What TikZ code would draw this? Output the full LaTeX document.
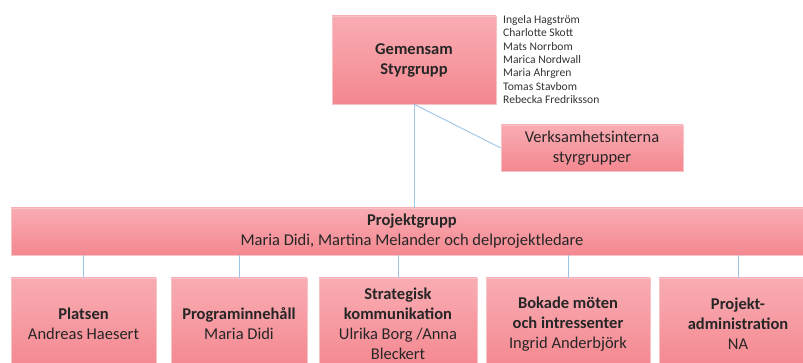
\documentclass[tikz,border=0pt]{standalone}
\usepackage{fontspec}
\setmainfont{Carlito}
\definecolor{boxtop}{HTML}{F9ACB3}
\definecolor{boxbot}{HTML}{F4878F}
\definecolor{boxedge}{HTML}{F8C3C7}
\definecolor{linkblue}{HTML}{9DC3E6}
\begin{document}
\begin{tikzpicture}[x=1pt,y=-1pt,
		orgbox/.style={draw=boxedge, top color=boxtop, bottom color=boxbot, align=center, inner sep=2pt,
			font=\fontsize{16.5}{20}\selectfont, text=black!85},
		link/.style={draw=linkblue, line width=0.9pt}]
		\useasboundingbox (0,0) rectangle (803,363);
		\clip (0,0) rectangle (803,363);
		
		\node[orgbox, minimum width=164, minimum height=88] (gem) at (414,60) {\textbf{Gemensam}\\\textbf{Styrgrupp}};
		\node[anchor=north west, inner sep=0pt, align=left, font=\fontsize{11.6}{13.4}\selectfont, text=black!80] (names) at (503,15)
			{Ingela Hagström\\Charlotte Skott\\Mats Norrbom\\Marica Nordwall\\Maria Ahrgren\\Tomas Stavbom\\Rebecka Fredriksson};
		
		\node[orgbox, minimum width=182, minimum height=46] (verk) at (592,148) {Verksamhetsinterna\\styrgrupper};
		
		\node[orgbox, minimum width=802, minimum height=47] (proj) at (412,231.5) {\textbf{Projektgrupp}\\Maria Didi, Martina Melander och delprojektledare};
		
		\node[orgbox, minimum width=145, minimum height=92] (plats) at (83.5,324) {\textbf{Platsen}\\Andreas Haesert};
		\node[orgbox, minimum width=136, minimum height=92] (prog) at (239,324) {\textbf{Programinnehåll}\\Maria Didi};
		\node[orgbox, minimum width=158, minimum height=92] (strat) at (398,324) {\textbf{Strategisk}\\\textbf{kommunikation}\\Ulrika Borg /Anna\\Bleckert};
		\node[orgbox, minimum width=164, minimum height=92] (bok) at (568,324) {\textbf{Bokade möten}\\\textbf{och intressenter}\\Ingrid Anderbjörk};
		\node[orgbox, minimum width=158, minimum height=92] (adm) at (738,324) {\textbf{Projekt-}\\\textbf{administration}\\NA};
		
		\draw[link] (gem.south) -- (gem.south |- proj.north);
		\draw[link] (gem.south) -- (verk.west);
		\foreach \b in {plats,prog,strat,bok,adm}
			\draw[link] (\b.north) -- (\b.north |- proj.south);
	\end{tikzpicture}
\end{document}
